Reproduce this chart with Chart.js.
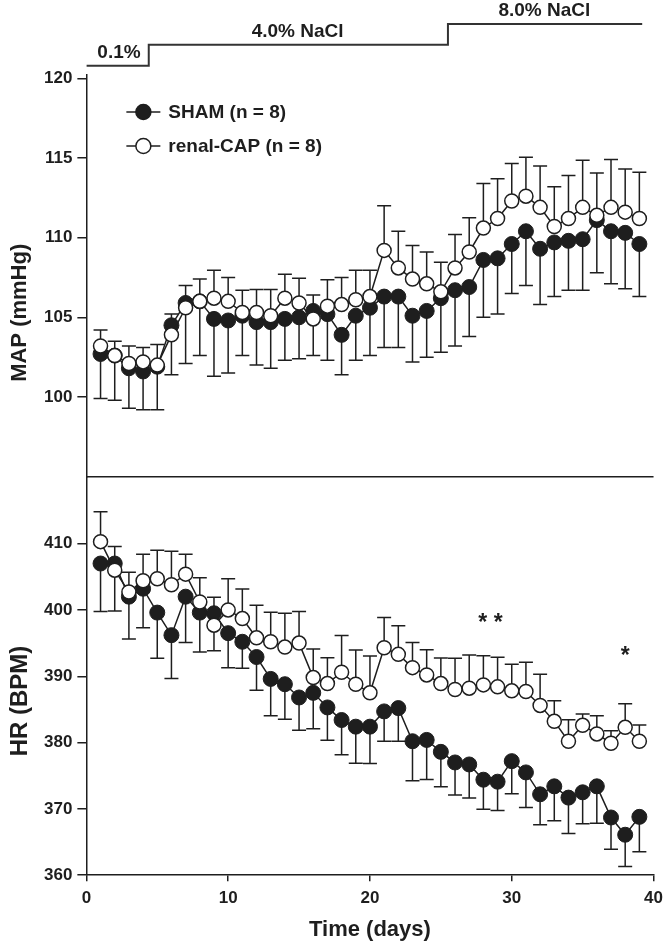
<!DOCTYPE html>
<html>
<head>
<meta charset="utf-8">
<script src="https://cdn.jsdelivr.net/npm/chart.js@4/dist/chart.umd.min.js"></script>
<style>
  body { margin: 0; background: #fff; }
  #wrap { width: 670px; height: 948px; }
</style>
</head>
<body>
<div id="wrap"><canvas id="chart" width="670" height="948"></canvas></div>
<script>
// days 1..39
const days = [1,2,3,4,5,6,7,8,9,10,11,12,13,14,15,16,17,18,19,20,21,22,23,24,25,26,27,28,29,30,31,32,33,34,35,36,37,38,39];

// MAP (mmHg) mean and SEM
const mapSham = [102.7,102.6,101.8,101.6,101.9,104.5,105.9,106.0,104.9,104.8,105.1,104.7,104.7,104.9,105.0,105.4,105.2,103.9,105.1,105.6,106.3,106.3,105.1,105.4,106.2,106.7,106.9,108.6,108.7,109.6,110.4,109.3,109.7,109.8,109.9,111.1,110.4,110.3,109.6];
const mapShamErr = [2.8,2.8,2.5,2.4,2.7,3.1,3.8,3.4,3.6,3.3,2.5,2.7,2.9,2.6,2.6,2.8,2.9,2.5,2.8,3.0,3.2,3.2,2.9,2.9,3.4,3.5,3.1,3.6,3.5,3.1,3.4,3.5,3.4,3.1,3.2,3.3,3.3,3.5,3.3];
const mapCap = [103.2,102.6,102.1,102.2,102.0,103.9,105.6,106.0,106.2,106.0,105.3,105.3,105.1,106.2,105.9,104.9,105.7,105.8,106.1,106.3,109.2,108.1,107.4,107.1,106.6,108.1,109.1,110.6,111.2,112.3,112.6,111.9,110.7,111.2,111.9,111.4,111.9,111.6,111.2];
const mapCapErr = [1.0,0.9,1.1,0.9,1.3,1.3,1.4,1.4,1.75,1.5,1.4,1.45,1.65,1.5,1.55,1.5,1.65,1.7,1.85,1.65,2.8,2.3,2.1,2.0,1.85,2.1,2.15,2.8,2.5,2.35,2.45,2.6,2.5,2.7,2.95,2.65,3.0,2.7,2.9];

// HR (BPM) mean and SEM
const hrSham = [407.0,407.0,402.0,403.2,399.6,396.2,402.0,399.6,399.5,396.5,395.2,392.9,389.6,388.8,386.8,387.5,385.3,383.4,382.4,382.4,384.7,385.2,380.2,380.4,378.6,377.0,376.7,374.4,374.1,377.2,375.5,372.2,373.4,371.7,372.5,373.4,368.7,366.1,368.8];
const hrShamErr = [7.25,7.15,6.4,5.9,6.9,6.55,6.9,5.95,5.65,5.2,4.0,5.0,5.55,5.3,4.95,5.4,4.95,5.25,5.5,5.55,4.5,5.0,5.95,5.95,5.25,4.9,5.05,4.45,4.35,4.9,5.3,4.6,5.2,5.4,4.75,5.55,4.8,4.8,5.25];
const hrCap = [410.3,406.0,402.7,404.4,404.7,403.8,405.4,401.2,397.7,400.0,398.7,395.8,395.2,394.4,395.0,389.8,388.9,390.6,388.8,387.5,394.3,393.3,391.3,390.2,388.9,388.0,388.2,388.7,388.4,387.8,387.7,385.6,383.2,380.2,382.6,381.3,379.9,382.3,380.2];
const hrCapErr = [4.5,3.55,3.0,4.0,4.3,5.05,3.0,3.65,4.2,4.7,4.45,4.9,4.45,5.1,4.75,4.3,3.9,5.55,5.15,5.55,4.55,4.3,3.8,3.8,3.85,4.7,5.0,4.4,4.45,4.0,4.4,4.7,3.1,3.25,1.7,2.75,1.9,3.55,2.45];

// salt protocol bar
const saltX = [0, 4.4, 25.5, 39.2];
const saltLevel = [1, 2, 3, 3];
const saltLabels = ['0.1%', '4.0% NaCl', '8.0% NaCl'];
const saltLabelX = [2.3, 14.9, 32.3];
const saltLabelLevel = [1, 2, 3];

// significance marks
const starText = ['* *', '*'];
const starX = [28.5, 38];
const starY = [398, 393];

// ticks
const xTicks = [0, 10, 20, 30, 40];
const mapTicks = [100, 105, 110, 115, 120];
const hrTicks = [360, 370, 380, 390, 400, 410];

const INK = '#1e1e1e';
const FONT = "'Liberation Sans', Arial, Helvetica, sans-serif";
Chart.defaults.font.family = FONT;
Chart.defaults.color = INK;

function pts(ys) { return days.map((d, i) => ({ x: d, y: ys[i] })); }

function shamStyle(data, axis) {
  return {
    data: pts(data), yAxisID: axis,
    borderColor: INK, borderWidth: 1.5,
    pointRadius: 7.5, pointBackgroundColor: INK, pointBorderColor: INK, pointBorderWidth: 1
  };
}
function capStyle(data, axis) {
  return {
    data: pts(data), yAxisID: axis,
    borderColor: INK, borderWidth: 1.5,
    pointRadius: 7, pointBackgroundColor: '#fff', pointBorderColor: INK, pointBorderWidth: 1.5
  };
}

const errSets = [
  { vals: mapSham, err: mapShamErr, axis: 'map', dir: -1 },
  { vals: mapCap, err: mapCapErr, axis: 'map', dir: 1 },
  { vals: hrSham, err: hrShamErr, axis: 'hr', dir: -1 },
  { vals: hrCap, err: hrCapErr, axis: 'hr', dir: 1 }
];

const extras = {
  id: 'extras',
  beforeDatasetsDraw(chart) {
    const ctx = chart.ctx, x = chart.scales.x;
    ctx.save();
    ctx.strokeStyle = INK;
    ctx.lineWidth = 1.5;
    errSets.forEach(s => {
      const y = chart.scales[s.axis];
      s.vals.forEach((v, i) => {
        const px = x.getPixelForValue(days[i]);
        const p0 = y.getPixelForValue(v);
        const p1 = y.getPixelForValue(v + s.dir * s.err[i]);
        ctx.beginPath();
        ctx.moveTo(px, p0); ctx.lineTo(px, p1);
        ctx.moveTo(px - 7, p1); ctx.lineTo(px + 7, p1);
        ctx.stroke();
      });
    });
    ctx.restore();
  },
  afterDatasetsDraw(chart) {
    const ctx = chart.ctx, x = chart.scales.x, area = chart.chartArea;
    const salt = chart.scales.salt, hr = chart.scales.hr, map = chart.scales.map;
    ctx.save();
    // panel divider
    ctx.strokeStyle = INK; ctx.lineWidth = 1.5;
    ctx.beginPath();
    ctx.moveTo(area.left, hr.top); ctx.lineTo(area.right, hr.top);
    ctx.stroke();

    ctx.fillStyle = INK;
    ctx.textAlign = 'center';
    ctx.textBaseline = 'middle';
    // salt labels
    ctx.font = 'bold 19px ' + FONT;
    saltLabels.forEach((t, i) => {
      ctx.fillText(t, x.getPixelForValue(saltLabelX[i]), salt.getPixelForValue(saltLabelLevel[i]) - 13);
    });
    // stars
    ctx.font = 'bold 23px ' + FONT;
    starText.forEach((t, i) => {
      ctx.fillText(t, x.getPixelForValue(starX[i]), hr.getPixelForValue(starY[i]));
    });

    // legend
    const items = [['SHAM (n = 8)', INK], ['renal-CAP (n = 8)', '#fff']];
    ctx.font = 'bold 19px ' + FONT;
    ctx.textAlign = 'left';
    items.forEach((it, i) => {
      const ly = 112 + i * 34, lx = area.left + 40;
      ctx.beginPath();
      ctx.moveTo(lx, ly); ctx.lineTo(lx + 34, ly);
      ctx.stroke();
      ctx.beginPath();
      ctx.arc(lx + 17, ly, 7.5, 0, Math.PI * 2);
      ctx.fillStyle = it[1]; ctx.fill(); ctx.stroke();
      ctx.fillStyle = INK;
      ctx.fillText(it[0], lx + 42, ly + 1);
    });

    // y axis titles
    ctx.textAlign = 'center';
    [[map, 'MAP (mmHg)', 0.592, 22], [hr, 'HR (BPM)', 0.563, 24]].forEach(a => {
      const s = a[0];
      ctx.save();
      ctx.font = 'bold ' + a[3] + 'px ' + FONT;
      ctx.translate(20, s.top + (s.bottom - s.top) * a[2]);
      ctx.rotate(-Math.PI / 2);
      ctx.fillText(a[1], 0, 0);
      ctx.restore();
    });
    ctx.restore();
  }
};

// keep tick labels from pushing the plot area in
const noPad = s => { s.paddingTop = 0; s.paddingBottom = 0; };

const leftAxis = (min, max, ticks, weight) => ({
  type: 'linear', position: 'left', stack: 'v', stackWeight: weight,
  min: min, max: max,
  afterBuildTicks: a => { a.ticks = ticks.map(v => ({ value: v })); },
  afterFit: noPad,
  grid: { drawOnChartArea: false, tickLength: 9, color: INK, lineWidth: 1.5 },
  border: { color: INK, width: 1.5 },
  ticks: { font: { size: 17, weight: 'bold' }, color: INK, padding: 5, autoSkip: false }
});

new Chart(document.getElementById('chart'), {
  type: 'line',
  data: {
    datasets: [
      capStyle(mapCap, 'map'),
      capStyle(hrCap, 'hr'),
      shamStyle(mapSham, 'map'),
      shamStyle(hrSham, 'hr'),
      {
        data: saltX.map((d, i) => ({ x: d, y: saltLevel[i] })), yAxisID: 'salt',
        stepped: true, borderColor: '#333', borderWidth: 2, pointRadius: 0
      }
    ]
  },
  options: {
    responsive: false,
    devicePixelRatio: 1,
    animation: false,
    layout: { autoPadding: false, padding: { left: 39, right: 13.5, top: 0, bottom: 5 } },
    plugins: { legend: { display: false }, tooltip: { enabled: false } },
    scales: {
      x: {
        type: 'linear', min: 0, max: 40, position: 'bottom',
        afterBuildTicks: a => { a.ticks = xTicks.map(v => ({ value: v })); },
        grid: { drawOnChartArea: false, tickLength: 6, color: INK, lineWidth: 1.5 },
        border: { color: INK, width: 1.5 },
        ticks: { font: { size: 17, weight: 'bold' }, color: INK, padding: 7, maxRotation: 0 },
        title: { display: true, text: 'Time (days)', font: { size: 22, weight: 'bold' }, color: INK, padding: { top: 1, bottom: 0 } }
      },
      // left stack is laid out bottom-up, so list the lowest panel first
      hr: leftAxis(360, 420.1, hrTicks, 398),
      map: leftAxis(95, 120.2, mapTicks, 401),
      salt: {
        type: 'linear', position: 'left', stack: 'v', stackWeight: 75,
        min: 0.55, max: 4.15, afterFit: noPad,
        grid: { display: false }, border: { display: false }, ticks: { display: false }
      }
    }
  },
  plugins: [extras]
});
</script>
</body>
</html>
